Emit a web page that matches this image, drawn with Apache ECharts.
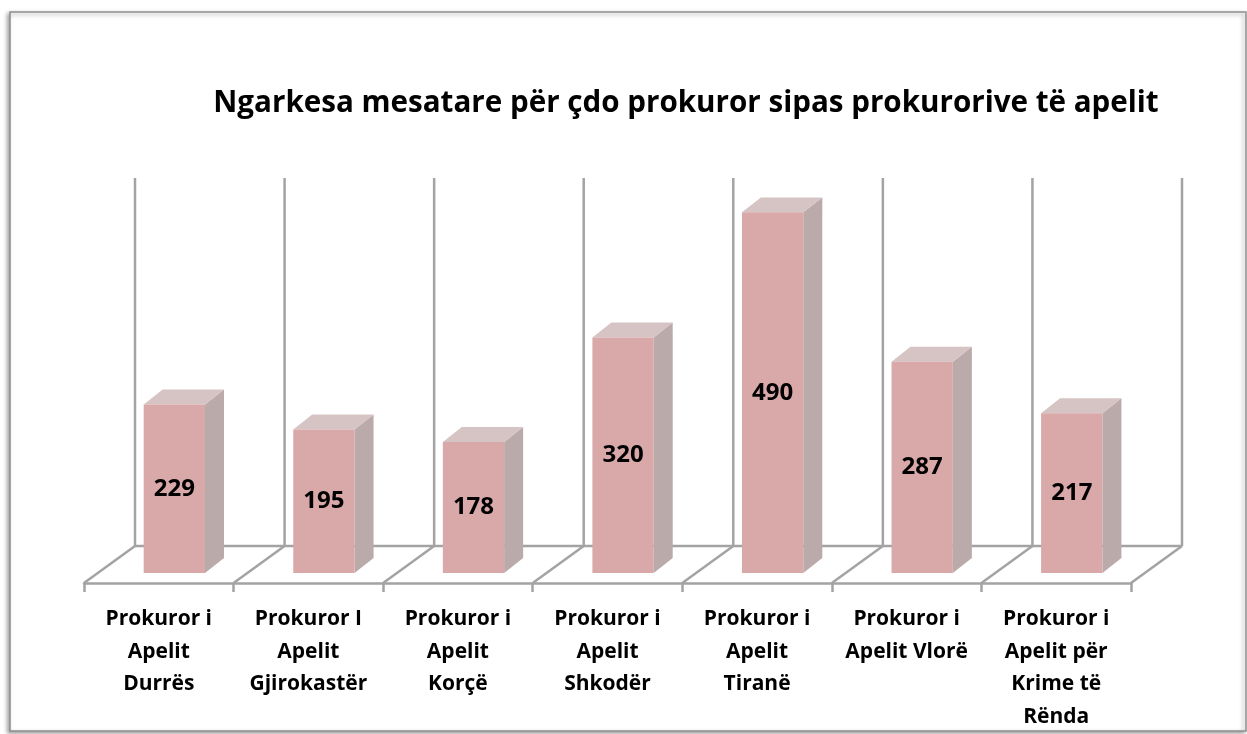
<!DOCTYPE html>
<html>
<head>
<meta charset="utf-8">
<script src="https://cdn.jsdelivr.net/npm/echarts@6/dist/echarts.min.js"></script>
<style>
  html, body { margin: 0; padding: 0; background: #fff; }
  #wrap { width: 1247px; height: 734px; }
</style>
</head>
<body>
<div id="wrap"></div>
<script>
// data
var titleText = 'Ngarkesa mesatare për çdo prokuror sipas prokurorive të apelit';
var categories = [
    'Prokuror i\nApelit\nDurrës',
    'Prokuror I\nApelit\nGjirokastër',
    'Prokuror i\nApelit\nKorçë',
    'Prokuror i\nApelit\nShkodër',
    'Prokuror i\nApelit\nTiranë',
    'Prokuror i\nApelit Vlorë',
    'Prokuror i\nApelit për\nKrime të\nRënda'
];
var values = [229, 195, 178, 320, 490, 287, 217];
var axisMax = 500;

var font = '"Open Sans", sans-serif';
var gridColor = '#a3a3a3';

var myChart = echarts.init(document.getElementById('wrap'));

// one item per category boundary (0..n) for the back wall / floor lines
var boundaries = [];
for (var i = 0; i <= categories.length; i++) boundaries.push(i);

function bandInfo(api) {
    var band = api.size([1, 0])[0];
    var c0 = api.coord([0, 0]);
    return {band: band, left: c0[0] - band / 2, base: c0[1], top: api.coord([0, axisMax])[1]};
}

function renderWalls(params, api) {
    var k = api.value(0);
    var b = bandInfo(api);
    var dx = b.band * 0.341, dy = b.band * 0.247;
    var xf = b.left + k * b.band;
    var xb = xf + dx;
    var line = {stroke: gridColor, lineWidth: 2.5};
    var children = [
        {type: 'line', shape: {x1: xb, y1: b.base - dy, x2: xb, y2: b.top - dy}, style: line},
        {type: 'line', shape: {x1: xf, y1: b.base, x2: xb, y2: b.base - dy}, style: line}
    ];
    if (k === 0) {
        children.push({type: 'line', shape: {
            x1: xb, y1: b.base - dy,
            x2: xb + categories.length * b.band, y2: b.base - dy
        }, style: line});
    }
    return {type: 'group', children: children};
}

function renderBars(params, api) {
    var idx = api.value(0);
    var val = api.value(1);
    var band = api.size([1, 0])[0];
    var p0 = api.coord([idx, 0]);
    var p1 = api.coord([idx, val]);
    var shiftX = band * 0.104, shiftY = band * 0.067;
    var w = band * 0.41;
    var sx = band * 0.127, sy = band * 0.1;
    var cx = p0[0] + shiftX;
    var yb = p0[1] - shiftY;
    var yt = p1[1] - shiftY;
    var l = cx - w / 2, r = cx + w / 2;
    return {
        type: 'group',
        children: [
            {type: 'polygon', shape: {points: [[r, yb], [r + sx, yb - sy], [r + sx, yt - sy], [r, yt]]},
                style: {fill: '#baaaaa'}},
            {type: 'polygon', shape: {points: [[l, yt], [l + sx, yt - sy], [r + sx, yt - sy], [r, yt]]},
                style: {fill: '#d6c3c4'}},
            {type: 'rect', shape: {x: l, y: yt, width: w, height: yb - yt},
                style: {fill: '#d9a8a9'}},
            {type: 'text', x: cx, y: (yt + yb) / 2,
                style: {text: String(val), fill: '#000', font: 'bold 24px ' + font,
                    align: 'center', verticalAlign: 'middle'}}
        ]
    };
}

var option = {
    animation: false,
    backgroundColor: '#fff',
    graphic: [
        {type: 'rect', shape: {x: 10, y: 12, width: 1236, height: 719},
            style: {fill: '#fff', stroke: '#8f8f8f', lineWidth: 1.5,
                shadowBlur: 4, shadowOffsetX: -2, shadowOffsetY: 2, shadowColor: 'rgba(0,0,0,0.35)'},
            z: -10},
        {type: 'text', x: 686, y: 104,
            style: {text: titleText, fill: '#000', font: 'bold 29.6px ' + font,
                align: 'center', verticalAlign: 'middle'}}
    ],
    grid: {left: 84, right: 116, top: 215, bottom: 151},
    xAxis: {
        type: 'category',
        data: categories,
        axisLine: {show: true, lineStyle: {color: gridColor, width: 2.5}},
        axisTick: {show: true, length: 9, lineStyle: {color: gridColor, width: 2.5}},
        axisLabel: {interval: 0, color: '#000', fontFamily: font, fontWeight: 'bold',
            fontSize: 21, lineHeight: 32.5, margin: 20}
    },
    yAxis: {
        type: 'value', min: 0, max: axisMax, show: false
    },
    series: [
        {
            type: 'custom',
            name: 'walls',
            renderItem: renderWalls,
            data: boundaries.map(function(k) { return [k]; }),
            encode: {x: 0},
            silent: true,
            z: 1
        },
        {
            type: 'custom',
            name: 'Ngarkesa',
            renderItem: renderBars,
            data: values.map(function(v, i) { return [i, v]; }),
            encode: {x: 0, y: 1},
            z: 3
        }
    ]
};
myChart.setOption(option);
</script>
</body>
</html>
